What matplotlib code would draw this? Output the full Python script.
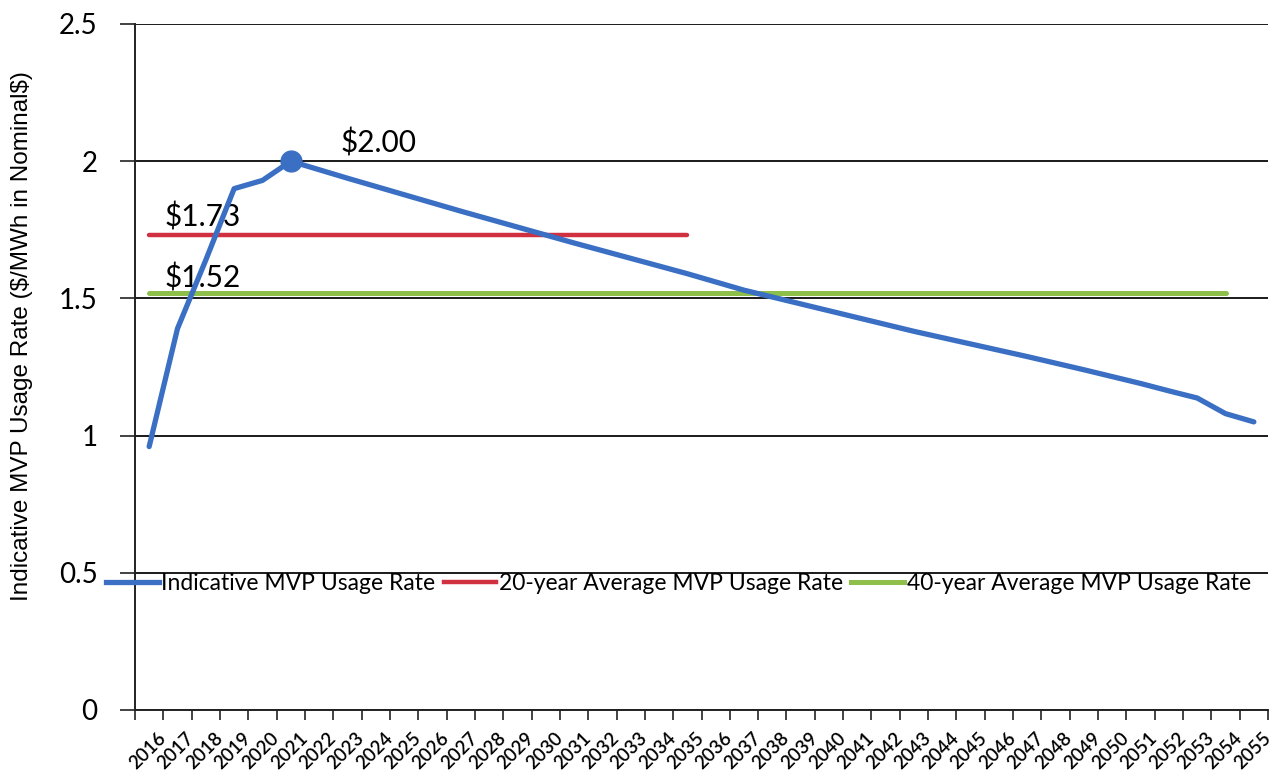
import matplotlib
matplotlib.use("Agg")
import matplotlib.pyplot as plt
from matplotlib.lines import Line2D
import matplotlib.transforms as mtrans
import numpy as np

years = [str(y) for y in range(2016, 2056)]
usage_rate = [0.96, 1.39, 1.64, 1.90, 1.93, 2.00, 1.969, 1.938, 1.908, 1.878,
              1.848, 1.818, 1.789, 1.760, 1.731, 1.702, 1.674, 1.646, 1.618, 1.590,
              1.560, 1.530, 1.505, 1.480, 1.455, 1.430, 1.405, 1.380, 1.357, 1.334,
              1.311, 1.288, 1.264, 1.240, 1.215, 1.190, 1.163, 1.137, 1.080, 1.050]
avg20_value = 1.73
avg20_years = years[:20]
avg40_value = 1.52
avg40_years = years[:39]
peak_year = "2021"
peak_value = 2.00

labels = ["Indicative MVP Usage Rate", "20-year Average MVP Usage Rate",
          "40-year Average MVP Usage Rate"]
ylabel = "Indicative MVP Usage Rate ($/MWh in Nominal$)"

plt.rcParams["text.parse_math"] = False

blue = "#3a6fc4"
red = "#d0303f"
green = "#8dbf4a"

W, H = 1275, 776
fig = plt.figure(figsize=(W / 100, H / 100), dpi=100)
ax = fig.add_axes([135 / W, 1 - 710 / H, (1268 - 135) / W, (710 - 24) / H])

xi = {y: i for i, y in enumerate(years)}
x_all = np.array([xi[y] for y in years])

ax.plot(x_all, usage_rate, color=blue, lw=3.8, solid_capstyle="round", zorder=5)
ax.plot([xi[y] for y in avg20_years], [avg20_value] * len(avg20_years),
        color=red, lw=3.2, solid_capstyle="round", zorder=4)
ax.plot([xi[y] for y in avg40_years], [avg40_value] * len(avg40_years),
        color=green, lw=3.6, solid_capstyle="round", zorder=4)
ax.plot([xi[peak_year]], [peak_value], "o", color=blue, ms=15, zorder=6)

font = "Lato"
ax.annotate(f"${peak_value:.2f}", (xi[peak_year], peak_value), xytext=(36, 3),
            textcoords="offset points", fontsize=21.5, family=font, va="bottom")
ax.annotate(f"${avg20_value:.2f}", (0, avg20_value), xytext=(11, 3),
            textcoords="offset points", fontsize=21.5, family=font, va="bottom")
ax.annotate(f"${avg40_value:.2f}", (0, avg40_value), xytext=(11, 0),
            textcoords="offset points", fontsize=21.5, family=font, va="bottom")

ax.set_xlim(-0.5, len(years) - 0.5)
ax.set_ylim(0, 2.5)
ax.set_yticks(np.arange(0, 2.51, 0.5))
ax.set_yticklabels(["0", "0.5", "1", "1.5", "2", "2.5"], fontsize=20, family=font)
ax.tick_params(axis="y", length=11, width=1.2, pad=16, color="#222222")
ax.yaxis.grid(True, color="#1a1a1a", lw=1.4)
ax.set_axisbelow(True)

ax.set_xticks(np.arange(-0.5, len(years), 1.0))
ax.set_xticklabels([])
ax.set_xticks(x_all, minor=True)
ax.set_xticklabels(years, minor=True, rotation=45, ha="right", va="top",
                   rotation_mode="anchor", fontsize=13.5, family=font,
                   fontweight="semibold")
ax.tick_params(axis="x", which="major", length=7, width=1.2, color="#222222")
ax.tick_params(axis="x", which="minor", length=0, pad=14)
offset = mtrans.ScaledTranslation(8 / 100, 0, fig.dpi_scale_trans)
for lab in ax.xaxis.get_minorticklabels():
    lab.set_transform(lab.get_transform() + offset)

for s in ["top", "right"]:
    ax.spines[s].set_visible(False)
for s in ["left", "bottom"]:
    ax.spines[s].set_color("#222222")
    ax.spines[s].set_linewidth(1.4)

ax.set_ylabel(ylabel, fontsize=17.5, family="Liberation Sans")
ax.yaxis.set_label_coords(-102 / (1268 - 135), 0.545)

handles = [Line2D([], [], color=blue, lw=3.8),
           Line2D([], [], color=red, lw=3.2),
           Line2D([], [], color=green, lw=3.6)]
fig.legend(handles, labels, loc="center left", bbox_to_anchor=(106 / W, 1 - 584 / H),
           ncol=3, frameon=False, prop={"family": font, "size": 16.5},
           handlelength=2.3, handletextpad=0.12, columnspacing=0.35,
           borderaxespad=0, borderpad=0)

fig.savefig("out.png", dpi=100)
